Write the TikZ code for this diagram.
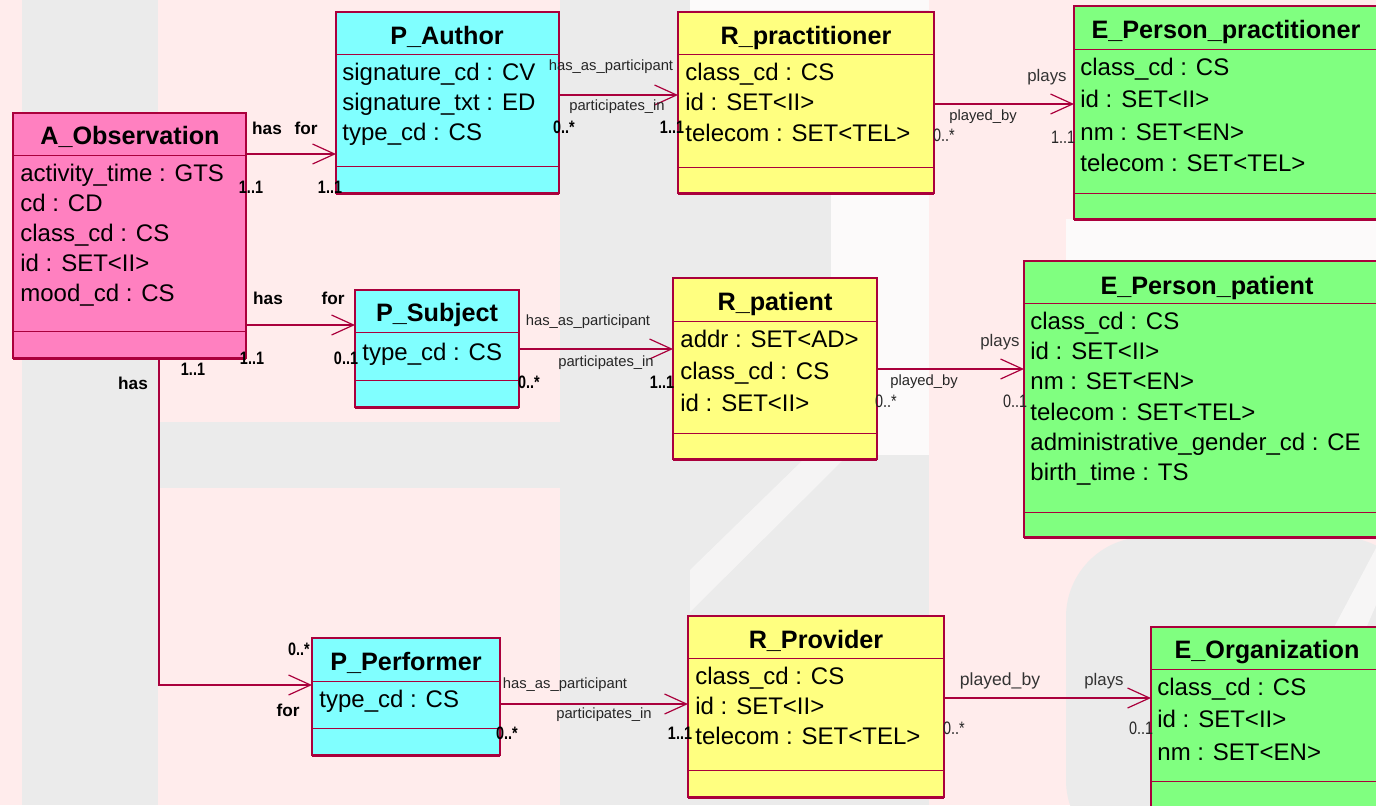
\documentclass[tikz,border=0pt]{standalone}
\usepackage{fontspec}
\setmainfont{Liberation Sans}
\newfontfamily\narrowsans{Liberation Sans}[FakeStretch=0.8]
\usetikzlibrary{arrows.meta,fit}

\definecolor{bgpink}{RGB}{255,236,236}
\definecolor{bggrey}{RGB}{235,235,235}
\definecolor{bgwhite}{RGB}{252,250,250}
\definecolor{obsfill}{RGB}{255,128,192}
\definecolor{partfill}{RGB}{128,255,255}
\definecolor{rolefill}{RGB}{255,255,128}
\definecolor{entfill}{RGB}{128,255,128}
\definecolor{umlline}{RGB}{170,0,60}

\tikzset{
  classbox/.style={draw=umlline, line width=0.6pt, inner sep=0pt, outer sep=0pt},
  sepline/.style={draw=umlline, line width=0.5pt},
  shadowline/.style={draw=umlline, line width=1.5pt},
  assoc/.style={draw=umlline, line width=0.6pt, -{Straight Barb[length=11pt,width=10pt]}},
  ctitle/.style={font=\bfseries\fontsize{12.6}{14}\selectfont, inner sep=0pt,
    text height=11pt, text depth=2.6pt},
  attr/.style={font=\fontsize{12}{14}\selectfont, anchor=west, inner sep=0pt,
    text height=11pt, text depth=2.6pt},
  rolelbl/.style={font=\fontsize{7.4}{8}\selectfont, inner sep=0pt, text=black!85},
  playlbl/.style={font=\fontsize{8.4}{9}\selectfont, inner sep=0pt, text=black!80},
  haslbl/.style={font=\bfseries\fontsize{8.6}{9}\selectfont, inner sep=0pt},
  multb/.style={font=\narrowsans\bfseries\fontsize{9}{10}\selectfont, inner sep=0pt},
  multr/.style={font=\narrowsans\fontsize{9}{10}\selectfont, inner sep=0pt, text=black!85},
}

% #1 name, #2 fill, #3 left, #4 top, #5 right, #6 bottom, #7 header rule, #8 operations rule
\newcommand\umlclassbox[8]{%
  \node[classbox, fill=#2, fit={(#3,#4) (#5,#6)}] (#1) {};
  \draw[sepline] (#1.west |- #3,#7) -- (#1.east |- #5,#7);
  \draw[sepline] (#1.west |- #3,#8) -- (#1.east |- #5,#8);
  \draw[shadowline] (#1.south west) -- (#1.south east);
}

\begin{document}
\begin{tikzpicture}[x=0.5pt, y=-0.5pt]
\useasboundingbox (0,0) rectangle (1376,805);
\clip (0,0) rectangle (1376,805);

% faint background artwork
\fill[bgpink] (0,0) rectangle (1376,805);
\fill[bggrey] (22,0) rectangle (158,805);
\fill[bggrey] (560,0) rectangle (929,805);
\fill[bgwhite] (831,190) rectangle (929,455);
\fill[bgwhite] (690,0) rectangle (929,10);
\fill[bgwhite!60!bggrey] (690,612) -- (690,570) -- (805,458) -- (845,458) -- cycle;
\fill[bggrey] (158,422) rectangle (560,488);
\fill[bgwhite] (1066,219) rectangle (1376,261);
\fill[bggrey, rounded corners=40pt] (1066,537) rectangle (1420,860);
\fill[bgwhite!70!bggrey] (1376,548) -- (1376,605) -- (1290,805) -- (1240,805) -- cycle;

% classes
\umlclassbox{aobs}{obsfill}{13}{113}{246}{358}{155}{331}
\umlclassbox{pauth}{partfill}{336}{12}{559}{193}{54}{166}
\umlclassbox{psubj}{partfill}{355}{290}{519}{407}{332}{380}
\umlclassbox{pperf}{partfill}{312}{638}{500}{755}{681}{728}
\umlclassbox{rprac}{rolefill}{678}{12}{934}{193}{54}{167}
\umlclassbox{rpat}{rolefill}{673}{278}{877}{459}{321}{433}
\umlclassbox{rprov}{rolefill}{688}{616}{944}{797}{658}{770}
\umlclassbox{eprac}{entfill}{1074}{6}{1380}{219}{49}{193}
\umlclassbox{epat}{entfill}{1024}{261}{1390}{537}{303}{512}
\umlclassbox{eorg}{entfill}{1151}{627}{1384}{830}{669}{781}

% class names
\node[ctitle] at (130,136) {A\_Observation};
\node[ctitle] at (447,36) {P\_Author};
\node[ctitle] at (437,313) {P\_Subject};
\node[ctitle] at (406,662) {P\_Performer};
\node[ctitle] at (806,36) {R\_practitioner};
\node[ctitle] at (775,302) {R\_patient};
\node[ctitle] at (816,640) {R\_Provider};
\node[ctitle] at (1226,30) {E\_Person\_practitioner};
\node[ctitle] at (1207,286) {E\_Person\_patient};
\node[ctitle] at (1267,650) {E\_Organization};

% attributes
\node[attr] at (20,173) {activity\_time : GTS};
\node[attr] at (20,203) {cd : CD};
\node[attr] at (20,233) {class\_cd : CS};
\node[attr] at (20,263) {id : SET<II>};
\node[attr] at (20,293) {mood\_cd : CS};

\node[attr] at (342,72) {signature\_cd : CV};
\node[attr] at (342,102) {signature\_txt : ED};
\node[attr] at (342,132) {type\_cd : CS};

\node[attr] at (362,352) {type\_cd : CS};
\node[attr] at (319,699) {type\_cd : CS};

\node[attr] at (685,72) {class\_cd : CS};
\node[attr] at (685,102) {id : SET<II>};
\node[attr] at (685,133) {telecom : SET<TEL>};

\node[attr] at (680,339) {addr : SET<AD>};
\node[attr] at (680,371) {class\_cd : CS};
\node[attr] at (680,403) {id : SET<II>};

\node[attr] at (695,676) {class\_cd : CS};
\node[attr] at (695,706) {id : SET<II>};
\node[attr] at (695,736) {telecom : SET<TEL>};

\node[attr] at (1080,67) {class\_cd : CS};
\node[attr] at (1080,99) {id : SET<II>};
\node[attr] at (1080,132) {nm : SET<EN>};
\node[attr] at (1080,163) {telecom : SET<TEL>};

\node[attr] at (1030,321) {class\_cd : CS};
\node[attr] at (1030,351) {id : SET<II>};
\node[attr] at (1030,381) {nm : SET<EN>};
\node[attr] at (1030,412) {telecom : SET<TEL>};
\node[attr] at (1030,442) {administrative\_gender\_cd : CE};
\node[attr] at (1030,472) {birth\_time : TS};

\node[attr] at (1157,687) {class\_cd : CS};
\node[attr] at (1157,719) {id : SET<II>};
\node[attr] at (1157,752) {nm : SET<EN>};

% act to participations
\draw[assoc] (aobs.east |- 0,154) -- (pauth.west |- 0,154);
\draw[assoc] (aobs.east |- 0,325) -- (psubj.west |- 0,325);
\draw[assoc] (aobs.south -| 159,0) |- (pperf.west |- 0,685);

\node[haslbl] at (267,128) {has};
\node[haslbl] at (306,128) {for};
\node[multb] at (251,187) {1..1};
\node[multb] at (330,187) {1..1};

\node[haslbl] at (268,298) {has};
\node[haslbl] at (333,298) {for};
\node[multb] at (252,358) {1..1};
\node[multb] at (346,358) {0..1};

\node[haslbl] at (133,383) {has};
\node[multb] at (193,369) {1..1};
\node[multb] at (299,649) {0..*};
\node[haslbl] at (288,710) {for};

% participations to roles
\draw[assoc] (pauth.east |- 0,95) -- (rprac.west |- 0,95);
\draw[assoc] (psubj.east |- 0,349) -- (rpat.west |- 0,349);
\draw[assoc] (pperf.east |- 0,704) -- (rprov.west |- 0,704);

\node[rolelbl] at (611,67) {has\_as\_participant};
\node[rolelbl] at (617,107) {participates\_in};
\node[multb] at (564,127) {0..*};
\node[multb] at (672,127) {1..1};

\node[rolelbl] at (588,322) {has\_as\_participant};
\node[rolelbl] at (606,363) {participates\_in};
\node[multb] at (529,382) {0..*};
\node[multb] at (662,382) {1..1};

\node[rolelbl] at (565,685) {has\_as\_participant};
\node[rolelbl] at (604,715) {participates\_in};
\node[multb] at (507,733) {0..*};
\node[multb] at (680,733) {1..1};

% roles to entities
\draw[assoc] (rprac.east |- 0,104) -- (eprac.west |- 0,104);
\draw[assoc] (rpat.east |- 0,369) -- (epat.west |- 0,369);
\draw[assoc] (rprov.east |- 0,698) -- (eorg.west |- 0,698);

\node[playlbl] at (1047,77) {plays};
\node[rolelbl] at (983,117) {played\_by};
\node[multr] at (944,135) {0..*};
\node[multr] at (1063,137) {1..1};

\node[playlbl] at (1000,342) {plays};
\node[rolelbl] at (924,382) {played\_by};
\node[multr] at (886,401) {0..*};
\node[multr] at (1015,401) {0..1};

\node[playlbl] at (1000,681) {\fontsize{8.8}{9}\selectfont played\_by};
\node[playlbl] at (1104,681) {plays};
\node[multr] at (954,728) {0..*};
\node[multr] at (1141,728) {0..1};
\end{tikzpicture}
\end{document}
